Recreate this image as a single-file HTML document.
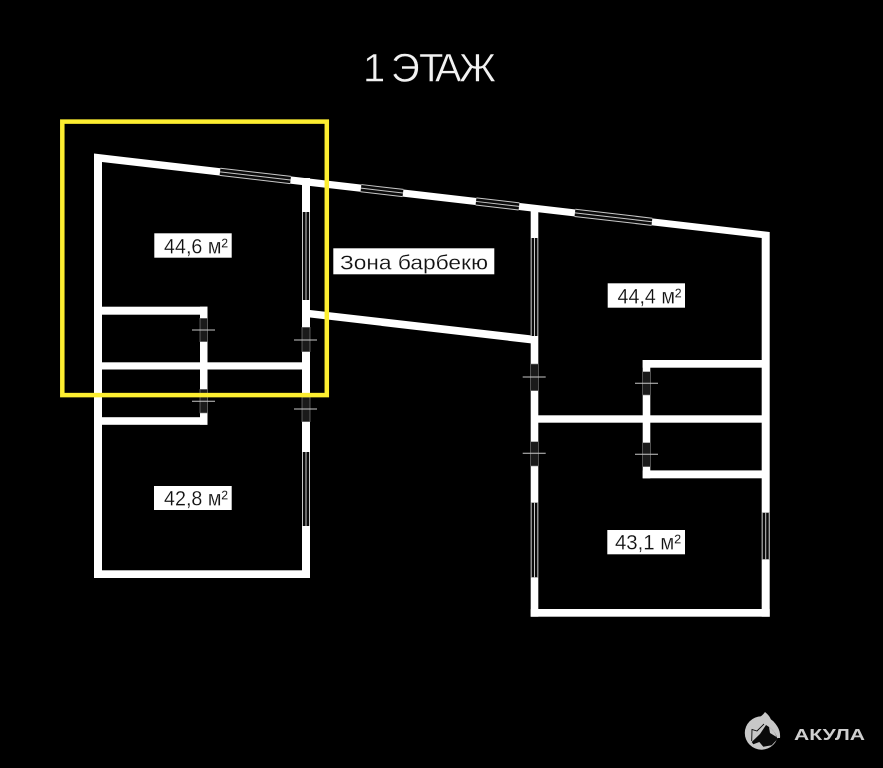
<!DOCTYPE html>
<html lang="ru">
<head>
<meta charset="utf-8">
<title>1 ЭТАЖ</title>
<style>
html,body{margin:0;padding:0;background:#000;}
svg{display:block;}
text{font-family:"Liberation Sans","DejaVu Sans",sans-serif;}
.lb{font-size:21px;fill:#111;stroke:#fff;stroke-width:.2;}
.win{fill:#0a0a0a;stroke:none;}
.gl{stroke:#c8c8c8;stroke-width:1;fill:none;}
.door{fill:#1a1a1a;stroke:#8a8a8a;stroke-width:.6;}
.cr{stroke:#c8c8c8;stroke-width:1;}
</style>
</head>
<body>
<svg width="883" height="768" viewBox="0 0 883 768" xmlns="http://www.w3.org/2000/svg">
<rect width="883" height="768" fill="#000"/>

<text x="363 380 391 419 435 459" y="81.7" font-size="40" fill="#f2f2f2" stroke="#000" stroke-width=".5">1 ЭТАЖ</text>

<!-- walls -->
<g fill="#fff">
  <polygon points="94,153.5 769.5,232 761.7,238 102,162 102,170 94,170"/>
  <!-- left building -->
  <rect x="94" y="160" width="8" height="418"/>
  <rect x="94" y="570.3" width="216" height="7.7"/>
  <rect x="302" y="178" width="8" height="400"/>
  <rect x="102" y="362.3" width="200" height="7.2"/>
  <rect x="102" y="306.7" width="105.5" height="8"/>
  <rect x="102" y="417.2" width="105.5" height="7.6"/>
  <rect x="200" y="306.7" width="7.5" height="118"/>
  <!-- connector wall -->
  <polygon points="310,310 532,335.5 532,343.5 310,317.5"/>
  <!-- right building -->
  <rect x="530.7" y="206" width="7.6" height="410.7"/>
  <rect x="530.7" y="609" width="239" height="7.7"/>
  <rect x="761.7" y="232" width="8" height="384.7"/>
  <rect x="538" y="415.3" width="224" height="7.4"/>
  <rect x="642.7" y="360" width="119.3" height="7.7"/>
  <rect x="642.7" y="470.4" width="119.3" height="7.9"/>
  <rect x="642.7" y="360" width="7.6" height="118.3"/>
</g>

<!-- slanted windows -->
<g transform="translate(102,158.2) rotate(6.594)">
  <rect class="win" x="118.8" y="-4.4" width="71" height="8.8"/>
  <path class="gl" d="M118.8-3.6H189.8M118.8 0H189.8M118.8 3.6H189.8"/>
  <rect class="win" x="260.7" y="-4.4" width="42.3" height="8.8"/>
  <path class="gl" d="M260.7-3.6H303M260.7 0H303M260.7 3.6H303"/>
  <rect class="win" x="376.5" y="-4.4" width="43.3" height="8.8"/>
  <path class="gl" d="M376.5-3.6H419.8M376.5 0H419.8M376.5 3.6H419.8"/>
  <rect class="win" x="476.1" y="-4.4" width="77.5" height="8.8"/>
  <path class="gl" d="M476.1-3.6H553.6M476.1 0H553.6M476.1 3.6H553.6"/>
</g>

<!-- vertical windows -->
<g>
  <rect class="win" x="302" y="212" width="8" height="88"/>
  <path class="gl" d="M302.5 212V300M306 212V300M309.5 212V300"/>
  <rect class="win" x="302" y="452" width="8" height="74"/>
  <path class="gl" d="M302.5 452V526M306 452V526M309.5 452V526"/>
  <rect class="win" x="530.7" y="238" width="7.6" height="98"/>
  <path class="gl" d="M531.2 238V336M534.5 238V336M537.8 238V336"/>
  <rect class="win" x="530.7" y="502.7" width="7.6" height="74.6"/>
  <path class="gl" d="M531.2 502.7V577.3M534.5 502.7V577.3M537.8 502.7V577.3"/>
  <rect class="win" x="761.7" y="512.7" width="8" height="46.6"/>
  <path class="gl" d="M762.2 512.7V559.3M765.7 512.7V559.3M769.2 512.7V559.3"/>
</g>

<!-- doors -->
<g>
  <rect class="door" x="200" y="318.3" width="7.5" height="23.4"/>
  <line class="cr" x1="192" y1="330" x2="215" y2="330"/>
  <rect class="door" x="200" y="389.3" width="7.5" height="23.7"/>
  <line class="cr" x1="192" y1="401.3" x2="215" y2="401.3"/>
  <rect class="door" x="302" y="327.3" width="8" height="24.4"/>
  <line class="cr" x1="294" y1="340" x2="317" y2="340"/>
  <rect class="door" x="302" y="397" width="8" height="24.7"/>
  <line class="cr" x1="294" y1="409" x2="317" y2="409"/>
  <rect class="door" x="530.7" y="364" width="7.6" height="26.7"/>
  <line class="cr" x1="522.7" y1="377" x2="545.7" y2="377"/>
  <rect class="door" x="530.7" y="441.7" width="7.6" height="24.3"/>
  <line class="cr" x1="522.7" y1="453.3" x2="545.7" y2="453.3"/>
  <rect class="door" x="642.7" y="371.7" width="7.6" height="23.3"/>
  <line class="cr" x1="635" y1="383.3" x2="658" y2="383.3"/>
  <rect class="door" x="642.7" y="442.7" width="7.6" height="24"/>
  <line class="cr" x1="635" y1="454.3" x2="658" y2="454.3"/>
</g>

<!-- labels -->
<rect x="154.3" y="233.3" width="77.4" height="24.4" fill="#fff"/>
<text class="lb" x="164" y="253.3" textLength="64" lengthAdjust="spacingAndGlyphs">44,6 м²</text>
<rect x="154" y="486" width="77.7" height="24" fill="#fff"/>
<text class="lb" x="164" y="505.5" textLength="64" lengthAdjust="spacingAndGlyphs">42,8 м²</text>
<rect x="607.7" y="283.3" width="77.3" height="24.4" fill="#fff"/>
<text class="lb" x="617.5" y="303.3" textLength="64" lengthAdjust="spacingAndGlyphs">44,4 м²</text>
<rect x="607.3" y="530" width="77.7" height="24.3" fill="#fff"/>
<text class="lb" x="615" y="549.7" textLength="66" lengthAdjust="spacingAndGlyphs">43,1 м²</text>
<rect x="333.3" y="248.3" width="161" height="26" fill="#fff"/>
<text x="340" y="269.3" font-size="20" fill="#111" stroke="#fff" stroke-width=".2" textLength="148" lengthAdjust="spacingAndGlyphs">Зона барбекю</text>

<!-- yellow frame -->
<rect x="62.3" y="121.6" width="264.5" height="273.5" fill="none" stroke="#fdee30" stroke-width="4.5"/>

<!-- logo -->
<g>
  <circle cx="761.5" cy="733" r="16.7" fill="#c8c8c8"/>
  <path d="M752 720 Q761 718 765 712 Q770 716 771 720 Q781 727 780 738 L772 738Z" fill="#c8c8c8"/>
  <path d="M766 725 L760 734 L751.7 742 L753.3 744.3 L759.3 742 L763.3 746.7 L771.7 745.3 L777.3 739.3 Q776 731 766 725Z" fill="#0a0a0a"/>
  <path d="M769 727 Q775 731 776.5 737 L770 733Z" fill="#c8c8c8"/>
  <path d="M751.7 741 L752 729.5 L757 731 L764 724" fill="none" stroke="#0a0a0a" stroke-width=".9"/>
  <text x="794" y="740" font-size="16" font-weight="bold" fill="#cfcfcf" textLength="71" lengthAdjust="spacingAndGlyphs">АКУЛА</text>
</g>
</svg>
</body>
</html>
